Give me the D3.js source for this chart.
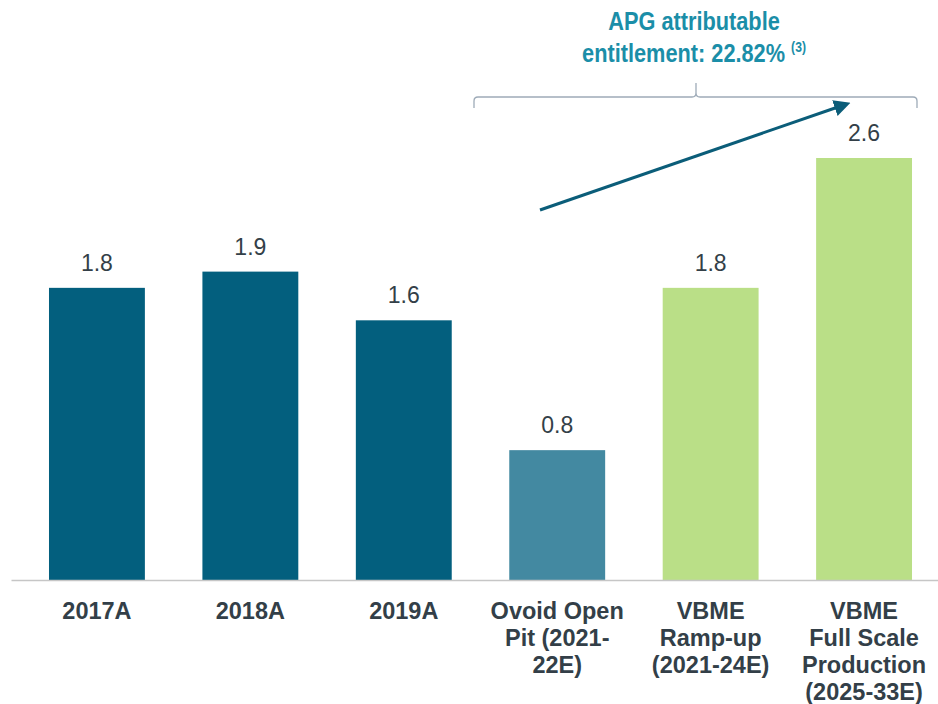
<!DOCTYPE html>
<html>
<head>
<meta charset="utf-8">
<script src="https://cdn.jsdelivr.net/npm/d3@7"></script>
<style>
    body { margin: 0; background: #fff; }
    svg { display: block; font-family: "Liberation Sans", Arial, sans-serif; }
    .value { font-size: 23px; fill: #333f48; }
    .cat text { font-size: 23.5px; font-weight: bold; fill: #333f48; }
    .title { font-weight: bold; fill: #1b8ea8; }
</style>
</head>
<body>
<svg width="938" height="704"></svg>
<script>
// chart data
const categories = ["2017A", "2018A", "2019A", "Ovoid Open Pit (2021-22E)", "VBME Ramp-up (2021-24E)", "VBME Full Scale Production (2025-33E)"];
const tickLines = [["2017A"], ["2018A"], ["2019A"], ["Ovoid Open", "Pit (2021-", "22E)"], ["VBME", "Ramp-up", "(2021-24E)"], ["VBME", "Full Scale", "Production", "(2025-33E)"]];
const values = [1.8, 1.9, 1.6, 0.8, 1.8, 2.6];
const colors = ["#035f7e", "#035f7e", "#035f7e", "#4389a1", "#badf87", "#badf87"];

const svg = d3.select("svg");
const baseY = 580;

let x = d3.scaleBand()
    .domain(categories)
    .range([11, 950])
    .paddingInner(0.375)
    .paddingOuter(0.2476);

let y = d3.scaleLinear().domain([0, 2.6]).range([baseY, 158]);

// bars
svg.selectAll("rect.bar")
    .data(values)
    .enter()
    .append("rect")
    .attr("class", "bar")
    .attr("x", (d, i) => x(categories[i]))
    .attr("y", d => y(d))
    .attr("width", x.bandwidth())
    .attr("height", d => baseY - y(d))
    .attr("fill", (d, i) => colors[i]);

// value labels
svg.selectAll("text.value")
    .data(values)
    .enter()
    .append("text")
    .attr("class", "value")
    .attr("text-anchor", "middle")
    .attr("x", (d, i) => x(categories[i]) + x.bandwidth() / 2)
    .attr("y", d => y(d) - 17)
    .text(d => d.toFixed(1));

// x axis
const axis = svg.append("g")
    .attr("class", "cat")
    .attr("transform", "translate(0," + baseY + ")")
    .call(d3.axisBottom(x).tickSize(0).tickSizeOuter(0).tickPadding(0));

axis.select(".domain").attr("stroke", "#c6c6c6").attr("stroke-width", 1.5);

axis.selectAll(".tick text")
    .attr("y", 0)
    .attr("dy", null)
    .text(null)
    .each(function(d, i) {
        const t = d3.select(this);
        tickLines[i].forEach((ln, j) => {
            t.append("tspan")
                .attr("x", 0)
                .attr("y", 39 + j * 27)
                .text(ln);
        });
    });

// bracket over the projected bars
const bx0 = 474, bx1 = 917, bTop = 97, bEnd = 108, bMid = 696, bPeak = 83;
svg.append("path")
    .attr("d", `M${bx0},${bEnd} L${bx0},${bTop + 4} Q${bx0},${bTop} ${bx0 + 4},${bTop}
        L${bMid - 4},${bTop} Q${bMid},${bTop} ${bMid},${bTop - 4} L${bMid},${bPeak}
        M${bMid},${bTop - 4} Q${bMid},${bTop} ${bMid + 4},${bTop}
        L${bx1 - 4},${bTop} Q${bx1},${bTop} ${bx1},${bTop + 4} L${bx1},${bEnd}`)
    .attr("fill", "none")
    .attr("stroke", "#9eabb8")
    .attr("stroke-width", 1.3);

// trend arrow
svg.append("defs").append("marker")
    .attr("id", "head")
    .attr("viewBox", "0 0 10 10")
    .attr("refX", 2)
    .attr("refY", 5)
    .attr("markerWidth", 5.5)
    .attr("markerHeight", 5.5)
    .attr("orient", "auto")
    .append("path")
    .attr("d", "M0,0 L10,5 L0,10 Z")
    .attr("fill", "#0b5d79");

svg.append("line")
    .attr("x1", 540).attr("y1", 210)
    .attr("x2", 838).attr("y2", 107)
    .attr("stroke", "#0b5d79")
    .attr("stroke-width", 3)
    .attr("marker-end", "url(#head)");

// title (condensed look, squeezed horizontally)
const title = svg.append("g")
    .attr("transform", "translate(694,0) scale(0.87,1)")
    .append("text")
    .attr("class", "title")
    .attr("text-anchor", "middle")
    .style("font-size", "25px");

title.append("tspan").attr("x", 0).attr("y", 30).text("APG attributable");
const l2 = title.append("tspan").attr("x", 0).attr("y", 62);
l2.append("tspan").text("entitlement: 22.82% ");
l2.append("tspan").attr("dy", -10).style("font-size", "14px").text("(3)");
</script>
</body>
</html>
